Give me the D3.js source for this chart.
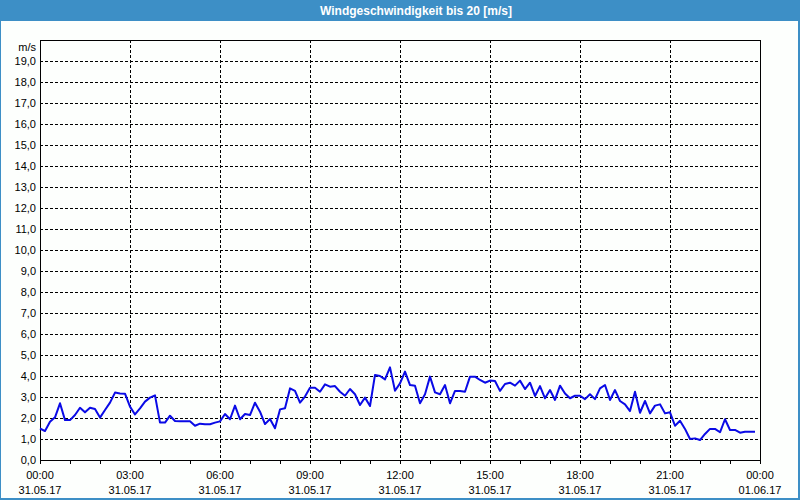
<!DOCTYPE html>
<html>
<head>
<meta charset="utf-8">
<script src="https://cdn.jsdelivr.net/npm/d3@7"></script>
<style>
html,body{margin:0;padding:0;background:#fdfffd;}
svg{display:block;}
</style>
</head>
<body>
<svg id="chart" width="800" height="500"></svg>
<script>
// ---- data ----
const title = "Windgeschwindigkeit bis 20 [m/s]";
const unitLabel = "m/s";
const startTime = "2017-05-31T00:00:00";
const endTime = "2017-06-01T00:00:00";
const sampleMinutes = 10;
// wind speed [m/s], one value every 10 minutes from 31.05.17 00:00
const windSpeed = [
  1.50,1.38,1.82,2.03,2.70,1.90,1.90,2.14,2.49,2.27,2.49,2.43,
  2.02,2.38,2.73,3.21,3.17,3.16,2.54,2.17,2.46,2.78,2.97,3.08,
  1.78,1.78,2.11,1.86,1.84,1.84,1.84,1.63,1.73,1.70,1.70,1.78,
  1.84,2.19,1.94,2.59,1.94,2.19,2.14,2.73,2.30,1.71,1.95,1.51,
  2.41,2.46,3.41,3.29,2.73,3.02,3.44,3.44,3.25,3.60,3.49,3.52,
  3.25,3.06,3.38,3.13,2.62,2.97,2.57,4.05,4.00,3.84,4.41,3.30,
  3.65,4.21,3.57,3.54,2.70,3.13,3.97,3.22,3.13,3.57,2.70,3.29,
  3.29,3.25,3.97,3.97,3.81,3.68,3.78,3.76,3.29,3.62,3.68,3.54,
  3.78,3.38,3.68,3.05,3.52,2.94,3.33,2.86,3.54,3.17,2.94,3.06,
  3.06,2.90,3.13,2.90,3.41,3.57,2.86,3.33,2.81,2.65,2.33,3.25,
  2.25,2.81,2.22,2.59,2.65,2.22,2.27,1.63,1.87,1.48,1.00,1.03,
  0.95,1.24,1.48,1.48,1.32,1.94,1.43,1.43,1.30,1.35,1.35,1.35
];
const yTicks = [0,1,2,3,4,5,6,7,8,9,10,11,12,13,14,15,16,17,18,19];
const xLabelTimes = ["00:00","03:00","06:00","09:00","12:00","15:00","18:00","21:00","00:00"];
const xLabelDates = ["31.05.17","31.05.17","31.05.17","31.05.17","31.05.17","31.05.17","31.05.17","31.05.17","01.06.17"];

// ---- layout ----
const W = 800, H = 500;
const plot = {left: 40, top: 40, right: 760, bottom: 460};
const blue = "#3d8fc6";
const font = "'Liberation Sans', Arial, sans-serif";

const svg = d3.select("#chart");

const t0 = new Date(startTime), t1 = new Date(endTime);
const x = d3.scaleTime().domain([t0, t1]).range([plot.left, plot.right]);
const y = d3.scaleLinear().domain([0, 20]).range([plot.bottom, plot.top]);

const data = windSpeed.map((v, i) => ({t: d3.timeMinute.offset(t0, i * sampleMinutes), v}));

// background
svg.append("rect").attr("width", W).attr("height", H).attr("fill", "#fdfffd");

// title bar
svg.append("rect").attr("x", 0).attr("y", 0).attr("width", W).attr("height", 21).attr("fill", blue);
svg.append("text")
  .attr("x", 416).attr("y", 14.5)
  .attr("text-anchor", "middle")
  .attr("fill", "#ffffff")
  .attr("font-family", font)
  .attr("font-weight", "bold")
  .attr("font-size", "12px")
  .text(title);

// window border
svg.append("rect").attr("x", 0).attr("y", 0).attr("width", 1).attr("height", H).attr("fill", blue);
svg.append("rect").attr("x", W - 2).attr("y", 0).attr("width", 2).attr("height", H).attr("fill", blue);
svg.append("rect").attr("x", 0).attr("y", H - 2).attr("width", W).attr("height", 2).attr("fill", blue);

// horizontal grid
const gridG = svg.append("g").attr("stroke", "#000").attr("stroke-width", 1).attr("stroke-dasharray", "3,2").attr("shape-rendering", "crispEdges");
gridG.selectAll("line.h").data(yTicks.filter(d => d > 0)).join("line")
  .attr("x1", plot.left).attr("x2", plot.right)
  .attr("y1", d => Math.round(y(d)) + 0.5).attr("y2", d => Math.round(y(d)) + 0.5);

// vertical grid (every 3 hours)
const majorTimes = d3.timeHour.every(3).range(t0, d3.timeMinute.offset(t1, 1));
gridG.selectAll("line.v").data(majorTimes.filter(d => +d > +t0 && +d < +t1)).join("line")
  .attr("y1", plot.top).attr("y2", plot.bottom)
  .attr("x1", d => Math.round(x(d)) + 0.5).attr("x2", d => Math.round(x(d)) + 0.5);

// y axis labels
const yAxis = d3.axisLeft(y).tickValues(yTicks).tickSize(0).tickPadding(4)
  .tickFormat(d => d3.format(".1f")(d).replace(".", ","));
const yg = svg.append("g").attr("transform", `translate(${plot.left},0)`).call(yAxis);
yg.select(".domain").remove();
yg.selectAll("text").attr("font-family", font).attr("font-size", "11px").attr("fill", "#000");

svg.append("text").attr("x", 36).attr("y", 51).attr("text-anchor", "end")
  .attr("font-family", font).attr("font-size", "11px").attr("fill", "#000").text(unitLabel);

// x axis hourly ticks
const xAxis = d3.axisBottom(x).ticks(d3.timeHour.every(1)).tickSize(4).tickFormat("");
const xg = svg.append("g").attr("transform", `translate(0,${plot.bottom})`).call(xAxis);
xg.select(".domain").remove();
xg.selectAll("line").attr("stroke", "#000").attr("shape-rendering", "crispEdges");

// x labels
const labelG = svg.append("g").attr("font-family", font).attr("font-size", "11px").attr("fill", "#000").attr("text-anchor", "middle");
labelG.selectAll("text.time").data(majorTimes).join("text")
  .attr("x", d => x(d)).attr("y", 479)
  .text((d, i) => xLabelTimes[i]);
labelG.selectAll("text.date").data(majorTimes).join("text")
  .attr("x", d => x(d)).attr("y", 494)
  .text((d, i) => xLabelDates[i]);

// frame
svg.append("rect")
  .attr("x", plot.left + 0.5).attr("y", plot.top + 0.5)
  .attr("width", plot.right - plot.left).attr("height", plot.bottom - plot.top)
  .attr("fill", "none").attr("stroke", "#000").attr("stroke-width", 1)
  .attr("shape-rendering", "crispEdges");

// line
const line = d3.line().x(d => x(d.t)).y(d => y(d.v));
svg.append("path").datum(data)
  .attr("d", line)
  .attr("fill", "none")
  .attr("stroke", "#0a0ae6")
  .attr("stroke-width", 2)
  .attr("stroke-linejoin", "round");
</script>
</body>
</html>
